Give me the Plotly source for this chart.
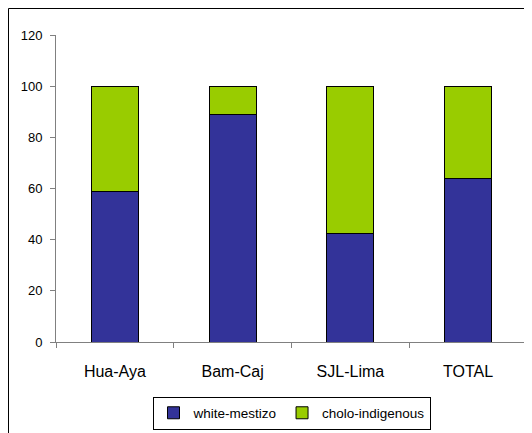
import plotly.graph_objects as go

categories = ["Hua-Aya", "Bam-Caj", "SJL-Lima", "TOTAL"]
white_mestizo = [59, 89, 42.5, 64]
cholo_indigenous = [41, 11, 57.5, 36]
y_ticks = [0, 20, 40, 60, 80, 100, 120]

FONT = "Liberation Sans, Arial, sans-serif"

fig = go.Figure()
fig.add_trace(go.Bar(
    x=categories, y=white_mestizo, name="white-mestizo",
    marker=dict(color="#333399", line=dict(color="black", width=1)),
))
fig.add_trace(go.Bar(
    x=categories, y=cholo_indigenous, name="cholo-indigenous",
    marker=dict(color="#99CC00", line=dict(color="black", width=1)),
))

# page has an 8px body margin; figure sized to fill the rest of the window
OFF = 8
W, H = 532 - OFF, 433 - OFF
PL, PR, PT, PB = 56, 527, 35, 342   # plot area in page pixels
L, R, T, B = PL - OFF, W - (PR - OFF), PT - OFF, H - (PB - OFF)
pw, ph = W - L - R, H - T - B

def px_x(p):
    return (p - OFF - L) / pw

def px_y(p):
    return (H - B - (p - OFF)) / ph

fig.update_layout(
    barmode="stack",
    bargap=0.6,
    width=W, height=H,
    margin=dict(l=L, r=R, t=T, b=B, autoexpand=False),
    paper_bgcolor="white",
    plot_bgcolor="white",
    font=dict(family=FONT, color="black", size=13),
    showlegend=True,
    legend=dict(
        orientation="h",
        x=0.5, xanchor="center",
        y=px_y(429.5), yanchor="bottom",
        bordercolor="black", borderwidth=1,
        font=dict(size=13.5, family=FONT, color="black"),
        itemwidth=30,
        traceorder="normal",
    ),
    xaxis=dict(
        showline=True, linecolor="#808080", linewidth=1,
        ticks="outside", ticklen=5, tickcolor="#808080",
        tickson="boundaries",
        tickfont=dict(size=16, family=FONT, color="black"),
        ticklabelstandoff=15,
        showgrid=False,
    ),
    yaxis=dict(
        range=[0, 120],
        tickvals=y_ticks,
        showline=True, linecolor="#808080", linewidth=1,
        ticks="outside", ticklen=5, tickcolor="#808080",
        tickfont=dict(size=13, family=FONT, color="black"),
        ticklabelstandoff=5,
        showgrid=False, zeroline=False,
    ),
    shapes=[dict(
        type="rect", xref="paper", yref="paper",
        x0=px_x(8.5), x1=px_x(560), y0=px_y(460), y1=px_y(8.5),
        line=dict(color="black", width=1), fillcolor="rgba(0,0,0,0)",
        layer="below",
    )],
)

fig.write_html("out.html")
